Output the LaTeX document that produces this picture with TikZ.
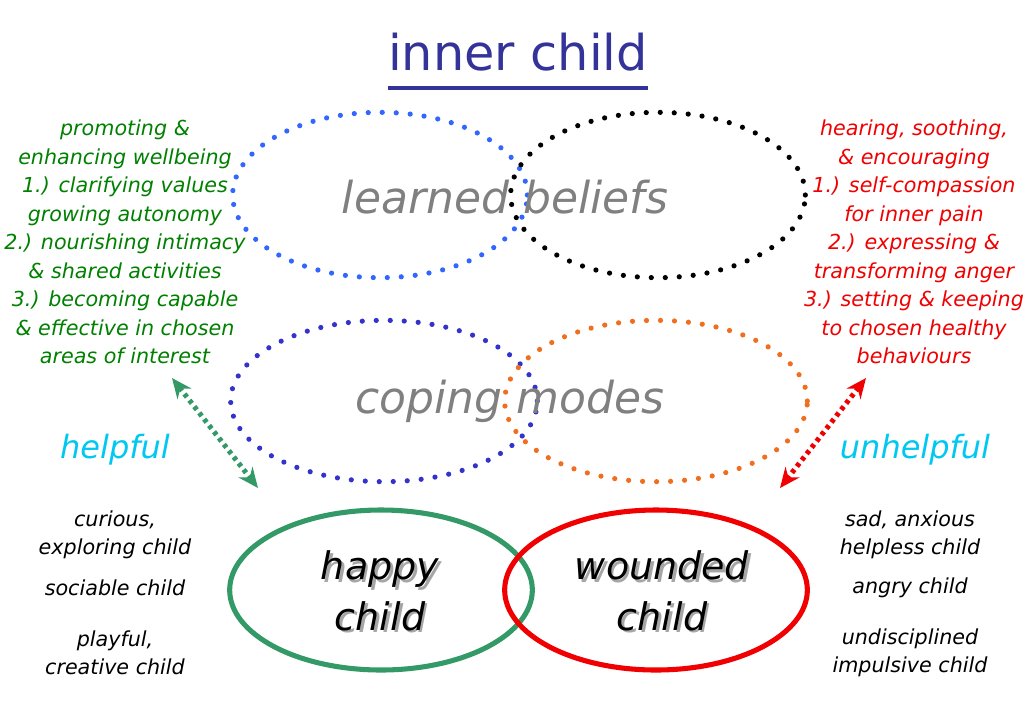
\documentclass[tikz,border=0pt]{standalone}
\usepackage{fontspec}
\setmainfont{DejaVu Sans}
\usetikzlibrary{shapes.geometric,arrows.meta,calc}

\definecolor{titleblue}{RGB}{51,51,153}
\definecolor{leafgreen}{RGB}{0,128,0}
\definecolor{seagreen}{RGB}{51,153,102}
\definecolor{skyblue}{RGB}{0,200,240}
\definecolor{dotblue}{RGB}{51,102,255}
\definecolor{deepblue}{RGB}{51,51,204}
\definecolor{dotorange}{RGB}{240,110,30}
\definecolor{warnred}{RGB}{240,0,0}

% word with a soft grey shadow behind it
\newcommand\shadowword[1]{\makebox[0pt][l]{\hspace{2.2pt}\raisebox{-2.2pt}{\textcolor{black!35}{#1}}}#1}

\begin{document}
\begin{tikzpicture}[x=0.75pt,y=-0.75pt,
  dotring/.style={ellipse, draw, line width=3.9pt, dash pattern=on 0pt off 10.5pt,
    line cap=round, minimum width=221pt, minimum height=124pt, inner sep=0pt},
  childring/.style={ellipse, draw, line width=3.8pt, minimum width=227pt,
    minimum height=120pt, inner sep=0pt},
  note/.style={font=\fontsize{15.5}{21.4}\selectfont\itshape, align=center, inner sep=0pt},
  midtext/.style={font=\fontsize{33}{40}\selectfont\itshape, text=gray, inner sep=0pt},
  childtext/.style={font=\fontsize{28.5}{38}\selectfont\itshape, align=center, inner sep=0pt},
  verdict/.style={font=\fontsize{24}{28}\selectfont\itshape, text=skyblue, inner sep=0pt},
  link/.style={line width=3.8pt, dash pattern=on 3pt off 3pt,
    {Stealth[length=15pt,width=13pt]}-{Stealth[length=15pt,width=13pt]}}
]

  % Fix the page to the size of the slide
  \useasboundingbox (0,0) rectangle (1023,708);

  % Title and its underline
  \node[font=\fontsize{37}{44}\selectfont, text=titleblue, anchor=base, inner sep=0pt]
    (title) at (518,70) {inner child};
  \draw[titleblue, line width=3pt] ($(title.base west)+(0,18)$) -- ($(title.base east)+(0,18)$);

  % Dotted rings for learned beliefs and coping modes
  \node[dotring, dotblue] (lbl) at (380,195) {};
  \node[dotring, black] (lbr) at (658,195) {};
  \node[dotring, deepblue, minimum width=230pt, minimum height=121pt] (cml) at (384,401) {};
  \node[dotring, dotorange, minimum width=227pt, minimum height=121pt] (cmr) at (656,401) {};
  \node[midtext] (lb) at (505,197) {learned beliefs};
  \node[midtext] (cm) at (510,401) {coping modes};

  % Solid rings for the two children
  \node[childring, seagreen] (hc) at (381,590) {};
  \node[childring, warnred] (wc) at (656,590) {};

  % Child labels with a soft shadow
  \node[childtext] (hct) at (380,592) {\shadowword{happy}\\\shadowword{child}};
  \node[childtext] (wct) at (662,592) {\shadowword{wounded}\\\shadowword{child}};

  % Side notes
  \node[note, text=leafgreen] (good) at (125,242) {promoting \&\\enhancing wellbeing\\1.) clarifying values\\growing autonomy\\2.) nourishing intimacy\\\& shared activities\\3.) becoming capable\\\& effective in chosen\\areas of interest};
  \node[note, text=warnred] (care) at (914,242) {hearing, soothing,\\\& encouraging\\1.) self-compassion\\for inner pain\\2.) expressing \&\\transforming anger\\3.) setting \& keeping\\to chosen healthy\\behaviours};

  \node[verdict] (help) at (115,450) {helpful};
  \node[verdict] (unhelp) at (915,450) {unhelpful};

  % Child states on each side
  \node[note] (hs1) at (115,535) {curious,\\exploring child};
  \node[note] (hs2) at (115,588) {sociable child};
  \node[note] (hs3) at (115,653) {playful,\\creative child};
  \node[note] (ws1) at (910,535) {sad, anxious\\helpless child};
  \node[note] (ws2) at (910,588) {angry child};
  \node[note] (ws3) at (910,653) {undisciplined\\impulsive child};

  % Ends of the two double arrows
  \coordinate (ga) at (172,378);
  \coordinate (gb) at (258,488);
  \coordinate (ra) at (866,378);
  \coordinate (rb) at (780,488);
  \draw[link, seagreen] (ga) -- (gb);
  \draw[link, warnred] (ra) -- (rb);

\end{tikzpicture}
\end{document}
